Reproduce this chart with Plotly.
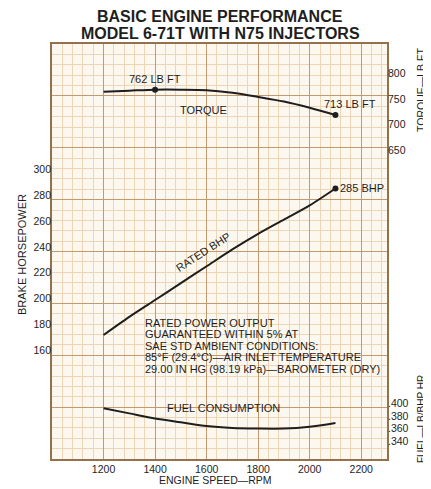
import plotly.graph_objects as go

# ---------------- data ----------------
rpm = [1200, 1300, 1400, 1500, 1600, 1700, 1800, 1900, 2000, 2100]
torque_lbft = [758, 760, 762, 762, 761, 756, 748, 739, 727, 713]
rated_bhp = [172, 186, 199, 212, 225, 238, 250, 261, 272, 285]
fuel_lb_bhp_hr = [0.392, 0.384, 0.376, 0.370, 0.364, 0.361, 0.360, 0.360, 0.363, 0.369]

x_ticks = [1200, 1400, 1600, 1800, 2000, 2200]
bhp_ticks = [160, 180, 200, 220, 240, 260, 280, 300]
torque_ticks = [650, 700, 750, 800]
fuel_ticks = [0.340, 0.360, 0.380, 0.400]
fuel_tick_text = [".340", ".360", ".380", ".400"]

note_lines = [
    "RATED POWER OUTPUT",
    "GUARANTEED WITHIN 5% AT",
    "SAE STD AMBIENT CONDITIONS:",
    "85°F (29.4°C)—AIR INLET TEMPERATURE",
    "29.00 IN HG (98.19 kPa)—BAROMETER (DRY)",
]

# ---------------- styling ----------------
OFF = 8  # default page body margin
W, H = 431 - OFF, 489 - OFF
ML, MR, MT, MB = 52 - OFF, 44, 44 - OFF, 30
PW, PH = W - ML - MR, H - MT - MB
FONT = "Liberation Sans, Arial, sans-serif"
INK = "#1e1e1e"
BG = "#fdf8ef"
MINOR = "#eed5b5"
MAJOR = "#c39a70"
BORDER = "#94704b"


def px(x):
    """window pixel x -> paper fraction"""
    return (x - OFF - ML) / PW


def py(y):
    """window pixel y -> paper fraction"""
    return (MT + PH - (y - OFF)) / PH


fig = go.Figure()

# empty trace so that the base grid subplot (x, y) exists
fig.add_trace(go.Scatter(x=[], y=[], xaxis="x", yaxis="y", mode="lines",
                         hoverinfo="skip", showlegend=False))

line_style = dict(color=INK, width=2, shape="spline", smoothing=0.8)

fig.add_trace(go.Scatter(x=rpm, y=torque_lbft, mode="lines", line=line_style,
                         xaxis="x", yaxis="y3", hoverinfo="skip", showlegend=False))
fig.add_trace(go.Scatter(x=rpm, y=rated_bhp, mode="lines", line=line_style,
                         xaxis="x", yaxis="y2", hoverinfo="skip", showlegend=False))
fig.add_trace(go.Scatter(x=rpm, y=fuel_lb_bhp_hr, mode="lines", line=line_style,
                         xaxis="x", yaxis="y4", hoverinfo="skip", showlegend=False))

# marked points
i_peak = torque_lbft.index(max(torque_lbft))
fig.add_trace(go.Scatter(x=[rpm[i_peak], rpm[-1]], y=[torque_lbft[i_peak], torque_lbft[-1]],
                         mode="markers", marker=dict(color=INK, size=6),
                         xaxis="x", yaxis="y3", hoverinfo="skip", showlegend=False))
fig.add_trace(go.Scatter(x=[rpm[-1]], y=[rated_bhp[-1]], mode="markers",
                         marker=dict(color=INK, size=6), xaxis="x", yaxis="y2",
                         hoverinfo="skip", showlegend=False))

tickfont = dict(family=FONT, size=10.5, color=INK)

fig.update_layout(
    width=W, height=H, autosize=False,
    margin=dict(l=ML, r=MR, t=MT, b=MB, pad=0, autoexpand=False),
    paper_bgcolor="white", plot_bgcolor=BG,
    showlegend=False,
    xaxis=dict(
        domain=[0, 1], anchor="y",
        range=[1000, 2300], tickmode="array", tickvals=x_ticks,
        ticktext=[str(v) for v in x_ticks], tickfont=tickfont, ticks="",
        showgrid=True, gridcolor=MAJOR, gridwidth=1.2,
        minor=dict(tickmode="linear", tick0=1000, dtick=40, showgrid=True,
                   gridcolor=MINOR, gridwidth=1),
        showline=True, mirror=True, linecolor=BORDER, linewidth=1.6,
        zeroline=False, fixedrange=True, automargin=False,
    ),
    yaxis=dict(
        domain=[0, 1], anchor="x",
        range=[0, 8], tickmode="linear", tick0=0, dtick=1, showticklabels=False,
        ticks="", showgrid=True, gridcolor=MAJOR, gridwidth=1.2,
        minor=dict(tickmode="linear", tick0=0, dtick=0.2, showgrid=True,
                   gridcolor=MINOR, gridwidth=1),
        showline=True, mirror=True, linecolor=BORDER, linewidth=1.6,
        zeroline=False, fixedrange=True, automargin=False,
    ),
    yaxis2=dict(
        overlaying="y", side="left", anchor="x", range=[76.4, 396.4],
        tickmode="array", tickvals=bhp_ticks, tickfont=tickfont, ticks="",
        showgrid=False, zeroline=False, showline=False, fixedrange=True,
        automargin=False,
    ),
    yaxis3=dict(
        overlaying="y", side="right", anchor="x", range=[50, 850],
        tickmode="array", tickvals=torque_ticks, tickfont=tickfont, ticks="",
        ticklabelshift=3,
        showgrid=False, zeroline=False, showline=False, fixedrange=True,
        automargin=False,
    ),
    yaxis4=dict(
        overlaying="y", side="right", anchor="x", range=[0.312, 0.967],
        tickmode="array", tickvals=fuel_ticks, ticktext=fuel_tick_text,
        tickfont=tickfont, ticks="",
        showgrid=False, zeroline=False, showline=False, fixedrange=True,
        automargin=False,
    ),
)

ann = []


def text(t, x, y, size=11, angle=0, xanchor="center", bold=False, color=INK):
    ann.append(dict(text=(f"<b>{t}</b>" if bold else t), x=px(x), y=py(y),
                    xref="paper", yref="paper", showarrow=False,
                    xanchor=xanchor, yanchor="middle", textangle=angle,
                    font=dict(family=FONT, size=size, color=color)))


# titles
text("BASIC ENGINE PERFORMANCE", 220, 17, size=16, bold=True)
text("MODEL 6-71T WITH N75 INJECTORS", 220, 33, size=16, bold=True)

# axis titles
text("BRAKE HORSEPOWER", 22, 255, angle=-90)
text("TORQUE—LB FT", 421, 90, size=10.5, angle=-90)
text("FUEL—LB/BHP HR", 421, 419, size=10, angle=-90)
text("ENGINE SPEED—RPM", 215, 480, size=10.5)

# curve labels
text("TORQUE", 203, 110)
text("RATED BHP", 203, 252, angle=-33)
text("FUEL CONSUMPTION", 223, 408)

# point labels (anchored to data)
ann.append(dict(text=f"{torque_lbft[i_peak]} LB FT", x=rpm[i_peak], y=torque_lbft[i_peak],
                xref="x", yref="y3", showarrow=False, yshift=11, xanchor="center",
                font=dict(family=FONT, size=11, color=INK)))
ann.append(dict(text=f"{torque_lbft[-1]} LB FT", x=rpm[-1], y=torque_lbft[-1],
                xref="x", yref="y3", showarrow=False, yshift=11, xshift=-13, xanchor="left",
                font=dict(family=FONT, size=11, color=INK)))
ann.append(dict(text=f"{rated_bhp[-1]} BHP", x=rpm[-1], y=rated_bhp[-1],
                xref="x", yref="y2", showarrow=False, xshift=3, xanchor="left",
                font=dict(family=FONT, size=11, color=INK)))

# note block
for i, line in enumerate(note_lines):
    text(line, 143, 323 + i * 11.4, xanchor="left")

fig.update_layout(annotations=ann)

fig.write_html("out.html")
